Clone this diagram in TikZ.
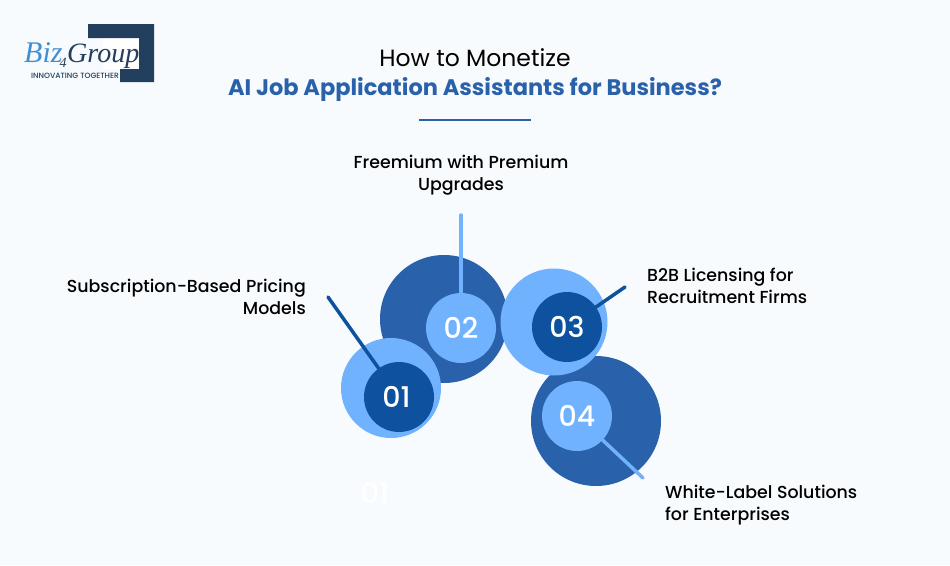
\documentclass[tikz,border=0pt]{standalone}
\usepackage{fontspec}
\setmainfont{Poppins}
\newfontfamily\logofont{Liberation Serif}
\newfontfamily\mediumfont{Poppins Medium}
\definecolor{pagebg}{HTML}{F8FBFE}
\definecolor{navy}{HTML}{223F5E}
\definecolor{titleblue}{HTML}{2A61AB}
\definecolor{darkblue}{HTML}{0E529F}
\definecolor{midblue}{HTML}{2A61AB}
\definecolor{lightblue}{HTML}{70B2FE}
\definecolor{bizblue}{HTML}{3F8FD2}
\tikzset{
  bigdisc/.style={circle, inner sep=0pt, minimum size=#1},
  numdisc/.style={circle, inner sep=0pt, minimum size=70pt, text=white, font=\mediumfont\fontsize{28.5}{28.5}\selectfont},
  label/.style={font=\mediumfont\fontsize{17.4}{22.5}\selectfont, text=black, inner sep=0pt},
  logotext/.style={inner sep=0pt, font=\logofont\itshape\fontsize{#1}{#1}\selectfont},
  leader/.style={line width=3.5pt, line cap=round},
}
\begin{document}
\begin{tikzpicture}[x=1pt,y=-1pt]
      \fill[pagebg] (0,0) rectangle (950,565);
      \useasboundingbox (0,0) rectangle (950,565);

      % logo
      \fill[white] (103,38) rectangle (139,69);
      \fill[navy] (88,24) -- (154,24) -- (154,82) -- (120,82) -- (120,69) -- (139,69) -- (139,38) -- (88,38) -- cycle;
      \node[logotext=30, text=bizblue, anchor=base west] (logobiz) at (24,62) {Biz};
      \node[logotext=14, text=navy, anchor=base west] (logofour) at (59.5,67) {4};
      \node[logotext=28, text=navy, anchor=base west] (logogroup) at (67,62) {Group};
      \node[inner sep=0pt, text=navy, font=\mediumfont\fontsize{7.6}{8}\selectfont] (logotag) at (75,76) {INNOVATING TOGETHER};

      % title
      \node[font=\fontsize{23.5}{23.5}\selectfont, inner sep=0pt] (title) at (475,57.5) {How to Monetize};
      \node[font=\fontsize{22.5}{22.5}\selectfont\bfseries, text=titleblue, inner sep=0pt] (subtitle) at (475,89) {AI Job Application Assistants for Business?};
      \coordinate (ruleL) at (419,120);
      \coordinate (ruleR) at (531,120);
      \draw[titleblue, line width=1.5pt] (ruleL) -- (ruleR);

      % discs
      \node[bigdisc=128pt, fill=midblue] (big2) at (444,319) {};
      \node[bigdisc=130pt, fill=midblue] (big4) at (596,421) {};
      \node[bigdisc=100pt, fill=lightblue] (big1) at (391,388) {};
      \node[bigdisc=107pt, fill=lightblue] (big3) at (554,322) {};
      \node[numdisc, fill=darkblue] (num1) at (399,397) {01\hspace*{5pt}};
      \node[numdisc, fill=lightblue] (num2) at (461,328) {02};
      \node[numdisc, fill=darkblue] (num3) at (567,327) {03};
      \node[numdisc, fill=lightblue] (num4) at (577,416) {04};
      \node[text=white, inner sep=0pt, font=\mediumfont\fontsize{28.5}{28.5}\selectfont] (ghost) at (375,493) {01};

      % leaders
      \coordinate (end1) at (328,297);
      \coordinate (end2) at (461,215);
      \coordinate (end3) at (625,287);
      \coordinate (end4) at (643,478);
      \draw[leader, darkblue] (num1) -- (end1);
      \draw[leader, lightblue] (num2) -- (end2);
      \draw[leader, darkblue] (num3) -- (end3);
      \draw[leader, lightblue] (num4) -- (end4);

      % labels
      \node[label, align=right, anchor=east] (text1) at (306,297) {Subscription-Based Pricing\\Models};
      \node[label, align=center] (text2) at (461,175) {Freemium with Premium\\Upgrades};
      \node[label, align=left, anchor=west] (text3) at (647,286) {B2B Licensing for\\Recruitment Firms};
      \node[label, align=left, anchor=west] (text4) at (665,505) {White-Label Solutions\\for Enterprises};
    \end{tikzpicture}
\end{document}
